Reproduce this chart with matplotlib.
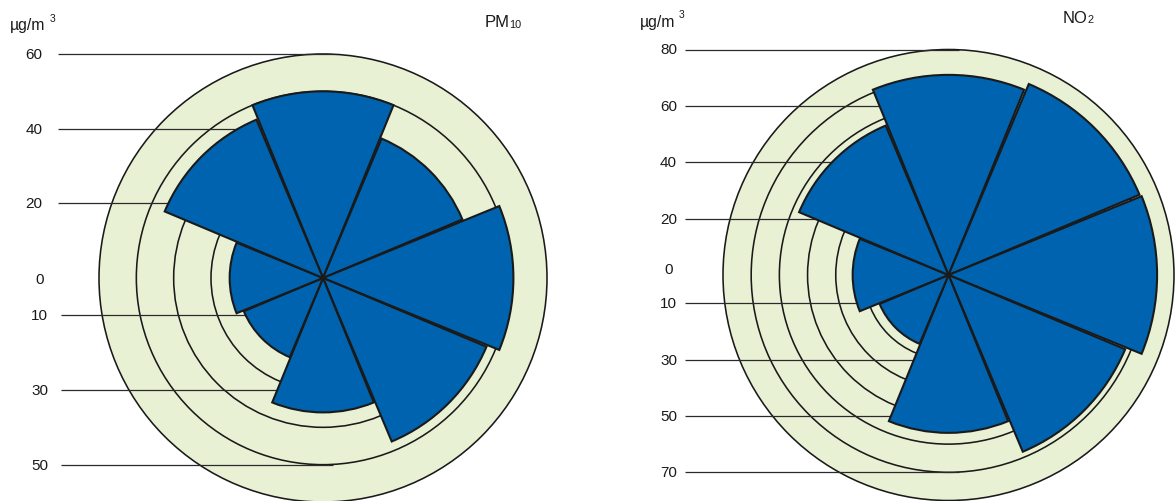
import matplotlib
matplotlib.use("Agg")
import matplotlib.pyplot as plt
from matplotlib.patches import Wedge, Circle

plt.rcParams['font.family'] = ['Liberation Sans', 'DejaVu Sans']

# Wind-direction sectors, clockwise from north
directions = ["N", "NE", "E", "SE", "S", "SW", "W", "NW"]

# Mean concentration per sector (µg/m³)
pm10_values = [50, 40.5, 51, 47.5, 36, 23, 25, 46]
no2_values = [71, 73.5, 74, 68, 56, 26.5, 34, 57.5]

# Reference rings and the vertical scale labels
pm10_rings = [10, 20, 30, 40, 50, 60]
no2_rings = [10, 20, 30, 40, 50, 60, 70, 80]
pm10_ticks_up = [20, 40, 60]
pm10_ticks_down = [10, 30, 50]
no2_ticks_up = [20, 40, 60, 80]
no2_ticks_down = [10, 30, 50, 70]

unit_text = "µg/m"
unit_power = "3"
pm10_name, pm10_sub = "PM", "10"
no2_name, no2_sub = "NO", "2"

BLUE = "#0063AF"
GREEN = "#E9F1D5"
EDGE = "#1a1a1a"

W, H = 1176, 502
fig = plt.figure(figsize=(W / 100, H / 100), dpi=100)


def make_axes(cx, cy, rmax_px, vmax):
    """Full-figure axes whose origin sits at pixel (cx, cy) with equal scaling."""
    s = rmax_px / vmax
    ax = fig.add_axes([0, 0, 1, 1])
    ax.set_xlim(-cx / s, (W - cx) / s)
    ax.set_ylim(-(H - cy) / s, cy / s)
    ax.axis("off")
    ax.patch.set_alpha(0)
    px = lambda x: (x - cx) / s
    py = lambda y: (cy - y) / s
    return ax, s, px, py


def draw_rose(ax, s, px, py, values, rings, ticks_up, ticks_down,
              lab_x_up, lab_x_down, line_x_up, line_x_down, zero_x, zero_dy):
    vmax = rings[-1]
    # background disc
    ax.add_patch(Circle((0, 0), vmax, facecolor=GREEN, edgecolor=EDGE,
                        lw=1.15, zorder=1))
    for r in rings[:-1]:
        ax.add_patch(Circle((0, 0), r, facecolor="none", edgecolor=EDGE,
                            lw=1.15, zorder=2))

    line_end = 10 / s
    for v in ticks_up:
        ax.plot([px(line_x_up), line_end], [v, v], color="#2a2a2a",
                lw=0.9, zorder=3, solid_capstyle="butt")
        ax.text(px(lab_x_up), v, str(v), ha="center", va="center",
                fontsize=11, color="#1a1a1a")
    for v in ticks_down:
        ax.plot([px(line_x_down), line_end], [-v, -v], color="#2a2a2a",
                lw=0.9, zorder=3, solid_capstyle="butt")
        ax.text(px(lab_x_down), -v, str(v), ha="center", va="center",
                fontsize=11, color="#1a1a1a")
    ax.text(px(zero_x), zero_dy / s, "0", ha="center", va="center",
            fontsize=11, color="#1a1a1a")

    half = 22.2
    for i, v in enumerate(values):
        theta = 90 - 45 * i
        ax.add_patch(Wedge((0, 0), v, theta - half, theta + half,
                           facecolor=BLUE, edgecolor=EDGE, lw=1.5,
                           joinstyle="miter", zorder=4))


def header(ax, px, py, unit_xy, power_xy, name_xy, sub_xy, name, sub):
    ax.text(px(unit_xy[0]), py(unit_xy[1]), unit_text, ha="left",
            va="baseline", fontsize=11.3, color="#1a1a1a")
    ax.text(px(power_xy[0]), py(power_xy[1]), unit_power, ha="left",
            va="baseline", fontsize=7.5, color="#1a1a1a")
    ax.text(px(name_xy[0]), py(name_xy[1]), name, ha="left",
            va="baseline", fontsize=12, color="#1a1a1a")
    ax.text(px(sub_xy[0]), py(sub_xy[1]), sub, ha="left",
            va="baseline", fontsize=7.8, color="#1a1a1a")


# PM10 rose
ax1, s1, px1, py1 = make_axes(323, 279, 224, pm10_rings[-1])
draw_rose(ax1, s1, px1, py1, pm10_values, pm10_rings,
          pm10_ticks_up, pm10_ticks_down,
          lab_x_up=34, lab_x_down=39.5, line_x_up=58, line_x_down=61,
          zero_x=40, zero_dy=-1)
header(ax1, px1, py1, (10, 30), (50, 22), (485, 27.3), (509.3, 28),
       pm10_name, pm10_sub)

# NO2 rose
ax2, s2, px2, py2 = make_axes(948.5, 276, 225.5, no2_rings[-1])
draw_rose(ax2, s2, px2, py2, no2_values, no2_rings,
          no2_ticks_up, no2_ticks_down,
          lab_x_up=668.5, lab_x_down=668.5, line_x_up=685, line_x_down=685,
          zero_x=668.5, zero_dy=6)
header(ax2, px2, py2, (640, 27), (679, 18), (1062.5, 22.7), (1087.5, 22.7),
       no2_name, no2_sub)

fig.savefig("out.png", dpi=100, facecolor="white")
